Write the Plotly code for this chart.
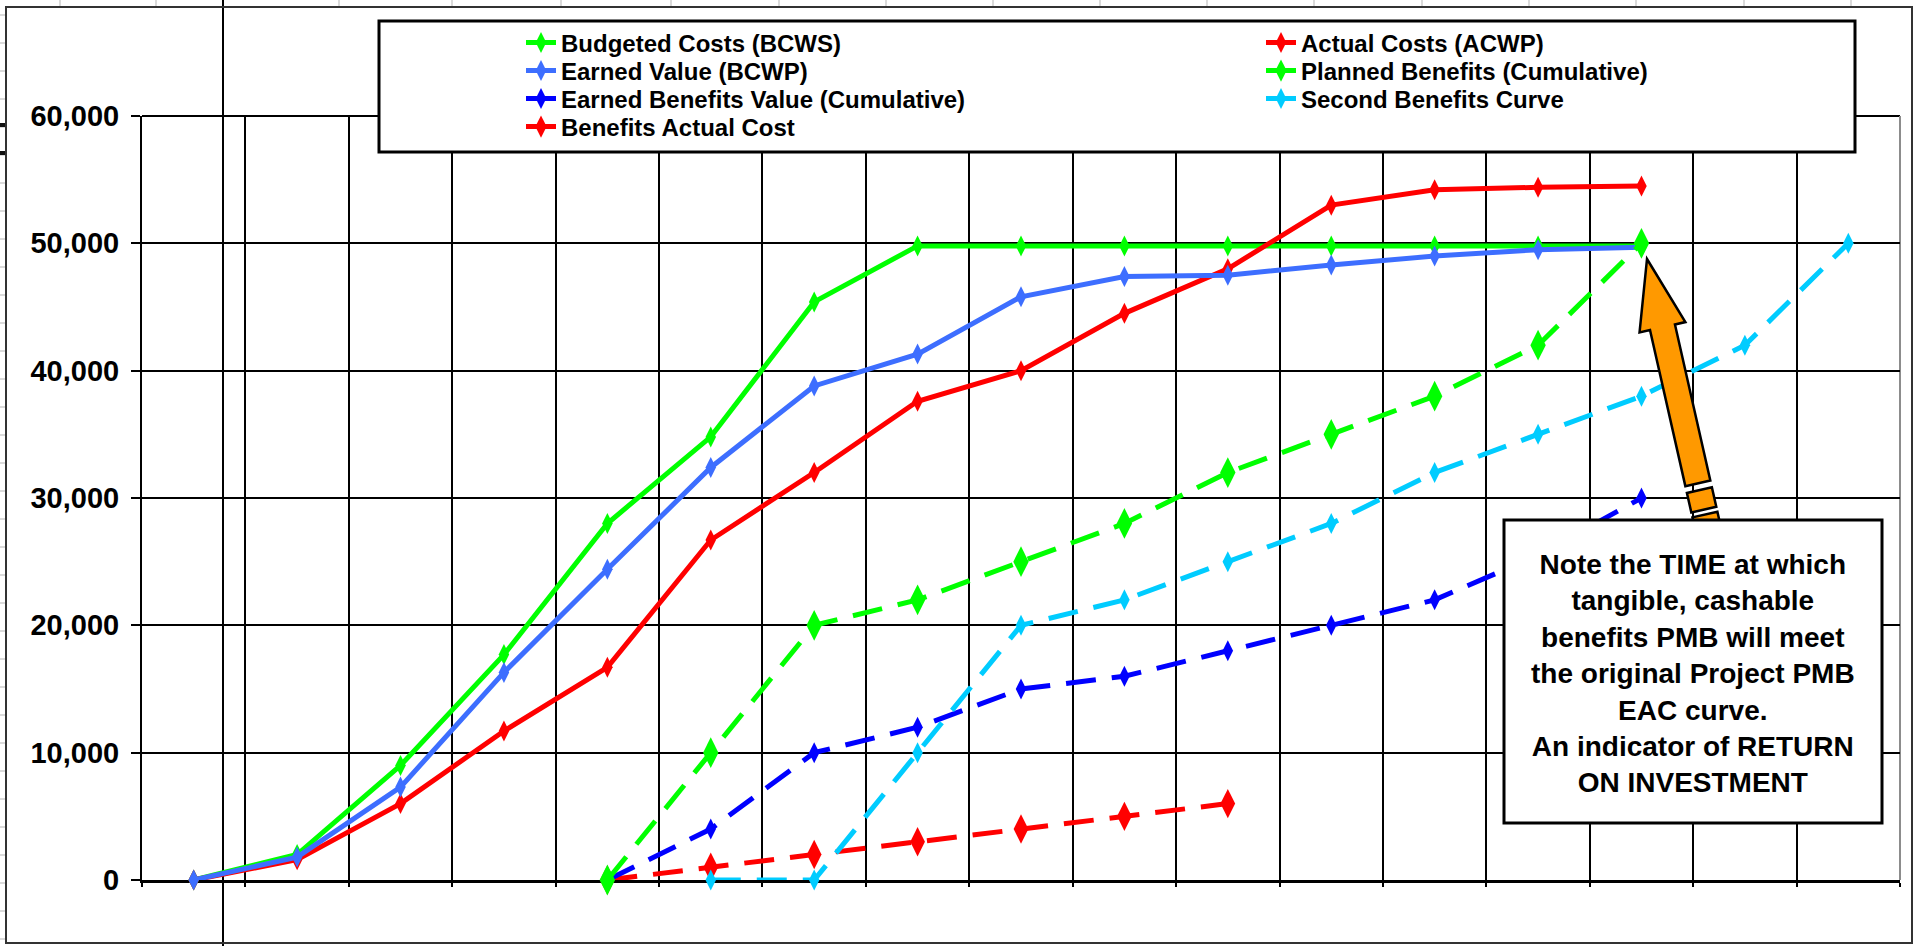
import math
import plotly.graph_objects as go

# ---------------- data ----------------
periods = list(range(17))

bcws = [0, 2000, 9000, 17700, 28000, 34800, 45400, 49800, 49800, 49800, 49800,
        49800, 49800, 49800, 49800, None, None]
bcwp = [0, 1800, 7300, 16300, 24400, 32400, 38800, 41300, 45800, 47400, 47500,
        48300, 49000, 49500, 49700, None, None]
acwp = [0, 1600, 6000, 11700, 16700, 26700, 32000, 37600, 40000, 44500, 48000,
        53000, 54200, 54400, 54500, None, None]
planned_benefits = [None, None, None, None, 0, 10000, 20000, 22000, 25000, 28000,
                    32000, 35000, 38000, 42000, 50000, None, None]
earned_benefits = [None, None, None, None, 0, 4000, 10000, 12000, 15000, 16000,
                   18000, 20000, 22000, 25500, 30000, None, None]
second_benefits = [None, None, None, None, None, 0, 0, 10000, 20000, 22000, 25000,
                   28000, 32000, 35000, 38000, 42000, 50000]
benefits_actual = [None, None, None, None, 0, 1000, 2000, 3000, 4000, 5000, 6000,
                   None, None, None, None, None, None]

y_ticks = [0, 10000, 20000, 30000, 40000, 50000, 60000]
note_lines = ["Note the TIME at which", "tangible, cashable",
              "benefits PMB will meet", "the original Project PMB",
              "EAC curve.", "An indicator of RETURN", "ON INVESTMENT"]

# ---------------- geometry helpers ----------------
FW, FH = 1917, 946
PL, PR, PT, PB = 142, 1900, 116, 880


def px(x):
    return (x - PL) / (PR - PL)


def py(y):
    return (PB - y) / (PB - PT)


FONT = "Liberation Sans, Arial, sans-serif"
DASH = "30px,16px"

# legend slots: (column x of legend box in px, row centre y in px)
COL1, COL2 = 521, 1261
ROWS = [43, 71, 99, 127]

series = [
    # name, values, color, dash, marker size, line width, legend slot
    ("Budgeted Costs (BCWS)", bcws, "#00FF00", "solid", 15, 5, (COL1, ROWS[0])),
    ("Actual Costs (ACWP)", acwp, "#FF0000", "solid", 15, 5, (COL2, ROWS[0])),
    ("Earned Value (BCWP)", bcwp, "#3D6EFF", "solid", 15, 5, (COL1, ROWS[1])),
    ("Benefits Actual Cost", benefits_actual, "#FF0000", DASH, 21, 5, (COL1, ROWS[3])),
    ("Earned Benefits Value (Cumulative)", earned_benefits, "#0000FF", DASH, 15, 5, (COL1, ROWS[2])),
    ("Second Benefits Curve", second_benefits, "#00CCFF", DASH, 15, 5, (COL2, ROWS[2])),
    ("Planned Benefits (Cumulative)", planned_benefits, "#00FF00", DASH, 22, 5, (COL2, ROWS[1])),
]

legend_font = dict(family=FONT, size=24, color="black", weight="bold")
fig = go.Figure()
legend_layouts = {}
for i, (name, vals, color, dash, msize, lw, slot) in enumerate(series):
    lname = "legend" if i == 0 else f"legend{i + 1}"
    fig.add_trace(go.Scatter(
        x=periods, y=vals, name=name, mode="lines+markers",
        line=dict(color=color, width=lw, dash=dash),
        marker=dict(symbol="diamond-tall", size=msize, color=color),
        legend=lname, hoverinfo="skip", cliponaxis=False,
    ))
    legend_layouts[lname] = dict(
        orientation="v", x=px(slot[0]), xanchor="left", y=py(slot[1]), yanchor="middle",
        bgcolor="rgba(0,0,0,0)", borderwidth=0, font=legend_font,
        itemclick=False, itemdoubleclick=False)

shapes = []
# spreadsheet decorations outside the chart area
for xx in [60, 156, 339, 452, 561, 671, 779, 886, 993, 1100, 1207, 1314, 1422,
           1529, 1636, 1744, 1851]:
    shapes.append(dict(type="line", xref="paper", yref="paper",
                       x0=px(xx), x1=px(xx), y0=py(0), y1=py(6),
                       line=dict(color="#b5b5b5", width=1), layer="above"))
for k in range(34):
    yy = 15 + 28 * k
    shapes.append(dict(type="line", xref="paper", yref="paper",
                       x0=px(0), x1=px(5), y0=py(yy), y1=py(yy),
                       line=dict(color="#b5b5b5", width=1), layer="above"))
for yy in [125, 153]:
    shapes.append(dict(type="line", xref="paper", yref="paper",
                       x0=px(0), x1=px(7), y0=py(yy), y1=py(yy),
                       line=dict(color="#111", width=4), layer="above"))
# chart area border
shapes.append(dict(type="rect", xref="paper", yref="paper",
                   x0=px(6), x1=px(1912), y0=py(943), y1=py(7),
                   line=dict(color="#333", width=2), layer="above"))
# long vertical worksheet line
shapes.append(dict(type="line", xref="paper", yref="paper",
                   x0=px(223), x1=px(223), y0=py(946), y1=py(0),
                   line=dict(color="#000", width=2), layer="between"))
# plot top and right borders
shapes.append(dict(type="line", xref="paper", yref="paper",
                   x0=0, x1=1, y0=1, y1=1,
                   line=dict(color="#000", width=2), layer="between"))
shapes.append(dict(type="line", xref="paper", yref="paper",
                   x0=1, x1=1, y0=0, y1=1,
                   line=dict(color="#8c8c8c", width=2), layer="between"))

# orange striped block arrow
tipx, tipy = 1647, 259
sx, sy = 1698, 484
L = math.hypot(sx - tipx, sy - tipy)
ux, uy = (tipx - sx) / L, (tipy - sy) / L
nx, ny = -uy, ux
head_len, head_hw, shaft_hw = 70, 23.5, 12.8
bx, by = tipx - head_len * ux, tipy - head_len * uy


def P(t, side, hw):
    return (bx - t * ux + side * hw * nx, by - t * uy + side * hw * ny)


def path(points):
    return "M " + " L ".join(f"{px(a):.5f},{py(b):.5f}" for a, b in points) + " Z"


main_pts = [(tipx, tipy), P(0, 1, head_hw), P(0, 1, shaft_hw), P(160, 1, shaft_hw),
            P(160, -1, shaft_hw), P(0, -1, shaft_hw), P(0, -1, head_hw)]
stripe1 = [P(167, 1, shaft_hw), P(187, 1, shaft_hw), P(187, -1, shaft_hw), P(167, -1, shaft_hw)]
stripe2 = [P(192, 1, shaft_hw), P(212, 1, shaft_hw), P(212, -1, shaft_hw), P(192, -1, shaft_hw)]
for pts in (main_pts, stripe1, stripe2):
    shapes.append(dict(type="path", xref="paper", yref="paper", path=path(pts),
                       fillcolor="#FF9900", line=dict(color="#000", width=2.5),
                       layer="above"))

# note box
shapes.append(dict(type="rect", xref="paper", yref="paper",
                   x0=px(1504), x1=px(1882), y0=py(823), y1=py(520),
                   fillcolor="white", line=dict(color="#000", width=3), layer="above"))
# legend box
shapes.append(dict(type="rect", xref="paper", yref="paper",
                   x0=px(379), x1=px(1855), y0=py(152), y1=py(21),
                   fillcolor="white", line=dict(color="#000", width=3), layer="above"))

fig.update_layout(
    width=FW, height=FH,
    margin=dict(l=PL, r=FW - PR, t=PT, b=FH - PB, pad=0),
    paper_bgcolor="white", plot_bgcolor="white",
    font=dict(family=FONT, color="black"),
    shapes=shapes,
    showlegend=True,
    annotations=[dict(xref="paper", yref="paper", x=px(1693), y=py(673),
                      xanchor="center", yanchor="middle", showarrow=False,
                      align="center", text="<br>".join(note_lines),
                      font=dict(family=FONT, size=28, color="black", weight="bold"))],
    **legend_layouts,
)

fig.update_xaxes(
    type="linear", range=[-0.5, 16.5],
    tickvals=[k + 0.5 for k in range(-1, 17)], showticklabels=False,
    ticks="outside", ticklen=4, tickwidth=2, tickcolor="black",
    showgrid=True, gridcolor="black", gridwidth=2,
    showline=True, linecolor="black", linewidth=3, zeroline=False,
    layer="below traces",
)
fig.update_yaxes(
    range=[0, 60000], tickvals=y_ticks, tickformat=",",
    ticks="outside", ticklen=9, tickwidth=2, tickcolor="black",
    ticklabelstandoff=6,
    tickfont=dict(family=FONT, size=29, color="black", weight="bold"),
    showgrid=True, gridcolor="black", gridwidth=2,
    showline=True, linecolor="black", linewidth=2, zeroline=False,
    layer="below traces",
)

fig.write_html("out.html", config={"displayModeBar": False},
               post_script="document.body.style.margin='0';document.body.style.overflow='hidden';")
